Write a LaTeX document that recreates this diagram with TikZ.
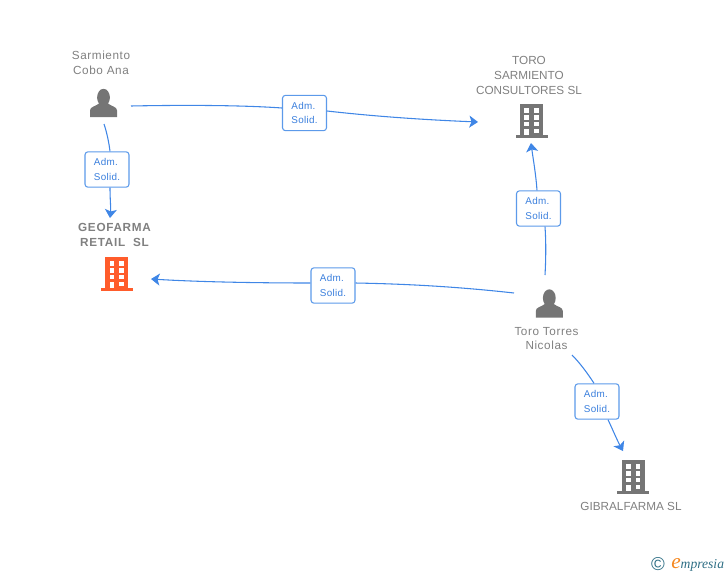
\documentclass[tikz,border=0pt]{standalone}
\usepackage{fontspec}
\setmainfont{Liberation Sans}
\newfontfamily\logofont{Liberation Serif}
\usetikzlibrary{arrows.meta}
\definecolor{edgeblue}{HTML}{3F86E6}
\definecolor{labelblue}{HTML}{3A7FDD}
\definecolor{boxblue}{HTML}{5C9AEA}
\definecolor{icongray}{HTML}{757575}
\definecolor{textgray}{HTML}{808080}
\definecolor{iconorange}{HTML}{FF5C2B}
\definecolor{logoteal}{HTML}{2F6F85}
\definecolor{logoorange}{HTML}{F5871F}
\tikzset{
  x=0.75pt,y=-0.75pt,
  lblbox/.style={draw=boxblue,fill=white,line width=0.8pt,rounded corners=2.2pt,minimum width=33pt,minimum height=26.5pt,inner sep=0pt,align=left,text=labelblue,font=\fontsize{7.4}{11.2}\selectfont\addfontfeature{LetterSpace=3}},
  plainname/.style={text=textgray,align=center,inner sep=0pt,font=\fontsize{8.8}{11.2}\selectfont},
  personname/.style={text=textgray,align=center,inner sep=0pt,font=\fontsize{8.8}{11.2}\selectfont\addfontfeature{LetterSpace=5}},
  boldname/.style={text=textgray,align=center,inner sep=0pt,font=\fontsize{8.8}{11.2}\selectfont\bfseries\addfontfeature{LetterSpace=6}},
  iconbox/.style={inner sep=0pt,minimum width=24pt,minimum height=24pt},
  linkline/.style={draw=edgeblue,line width=0.8pt},
  linkarrow/.style={linkline,-{Stealth[length=6.5pt,width=9pt,inset=1.6pt]}},
  pics/building/.style={code={
    \fill[#1] (-11.5,-17) rectangle (11.5,14);
    \foreach \yy/\hh in {-13/4.5,-6/4.5,1/4}{
      \fill[white] (-7.2,\yy) rectangle (-2.4,\yy+\hh);
      \fill[white] (2.6,\yy) rectangle (7.4,\yy+\hh);
    }
    \fill[white] (-7.2,7.5) rectangle (-2.4,14);
    \fill[white] (2.6,7.5) rectangle (7.4,11.5);
    \fill[#1] (-16,14) rectangle (16,17);
  }},
  pics/person/.style={code={
    \fill[icongray] (0,-5.5) ellipse [x radius=6.4, y radius=8.7];
    \fill[icongray] (-13.5,14) -- (-13.5,7.5) .. controls (-13.5,3.5) and (-8,3.5) .. (-4.5,0.5)
      -- (-3.5,-2) -- (3.5,-2) -- (4.5,0.5)
      .. controls (8,3.5) and (13.5,3.5) .. (13.5,7.5) -- (13.5,14) -- cycle;
  }}
}
\begin{document}
\begin{tikzpicture}
\useasboundingbox (0,0) rectangle (728,575);
% icons
\pic at (103.5,103) {person};
\node[iconbox] (sarm) at (103.5,103) {};
\pic at (549.3,303.5) {person};
\node[iconbox] (toro) at (549.3,303.5) {};
\pic at (531.5,121) {building=icongray};
\node[iconbox] (tsc) at (531.5,121) {};
\pic at (633,477) {building=icongray};
\node[iconbox] (gib) at (633,477) {};
\pic at (116.7,274) {building=iconorange};
\node[iconbox] (geo) at (116.7,274) {};
% names
\node[personname] (n1) at (101,62.5) {Sarmiento\\Cobo Ana};
\node[plainname] (n2) at (529,75.3) {TORO\\SARMIENTO\\CONSULTORES SL};
\node[boldname] (n3) at (114.5,235) {GEOFARMA\\RETAIL\ \ SL};
\node[personname] (n4) at (546.5,338.5) {Toro Torres\\Nicolas};
\node[plainname] (n5) at (631,506) {GIBRALFARMA SL};
% labels
\node[lblbox] (l1) at (304.5,113) {\raisebox{-1pt}{Adm.}\\\raisebox{-1pt}{Solid.}};
\node[lblbox] (l2) at (107,169.5) {\raisebox{-1pt}{Adm.}\\\raisebox{-1pt}{Solid.}};
\node[lblbox] (l3) at (538.5,208.5) {\raisebox{-1pt}{Adm.}\\\raisebox{-1pt}{Solid.}};
\node[lblbox] (l4) at (333,285.5) {\raisebox{-1pt}{Adm.}\\\raisebox{-1pt}{Solid.}};
\node[lblbox] (l5) at (597,401.5) {\raisebox{-1pt}{Adm.}\\\raisebox{-1pt}{Solid.}};
% free ends
\coordinate (a1) at (131,106);
\coordinate (b1) at (478,122);
\coordinate (a2) at (104,124);
\coordinate (b2) at (110,218);
\coordinate (a3) at (545,275);
\coordinate (b3) at (531,143);
\coordinate (a4) at (514,293);
\coordinate (b4) at (151,279);
\coordinate (a5) at (572,355);
\coordinate (b5) at (623,451);
% connectors
\draw[linkline] (a1) .. controls (180,105) and (240,105) .. (l1.west |- 0,108);
\draw[linkarrow] (l1.east |- 0,111) .. controls (380,117) and (430,120) .. (b1);
\draw[linkline] (a2) .. controls (107,133) and (109,143) .. (l2.north -| 110,0);
\draw[linkarrow] (l2.south -| 110,0) .. controls (110,200) and (111,208) .. (b2);
\draw[linkline] (a3) .. controls (546,258) and (546,240) .. (l3.south -| 545,0);
\draw[linkarrow] (l3.north -| 537,0) .. controls (536,175) and (533,158) .. (b3);
\draw[linkline] (a4) .. controls (460,287) and (410,284) .. (l4.east |- 0,283);
\draw[linkarrow] (l4.west |- 0,283) .. controls (260,283) and (200,282) .. (b4);
\draw[linkline] (a5) .. controls (580,363) and (588,374) .. (l5.north -| 594,0);
\draw[linkarrow] (l5.south -| 608,0) .. controls (612,428) and (617,440) .. (b5);
% logo
\node[inner sep=0pt,text=logoteal,font=\fontsize{14}{14}\selectfont] (copy) at (658,564) {©};
\node[inner sep=0pt,anchor=base west,font=\logofont\itshape\fontsize{10.2}{12}\selectfont,text=logoteal] (logo) at (671,568) {{\color{logoorange}\fontsize{16}{12}\selectfont e}mpresia};
\end{tikzpicture}
\end{document}
